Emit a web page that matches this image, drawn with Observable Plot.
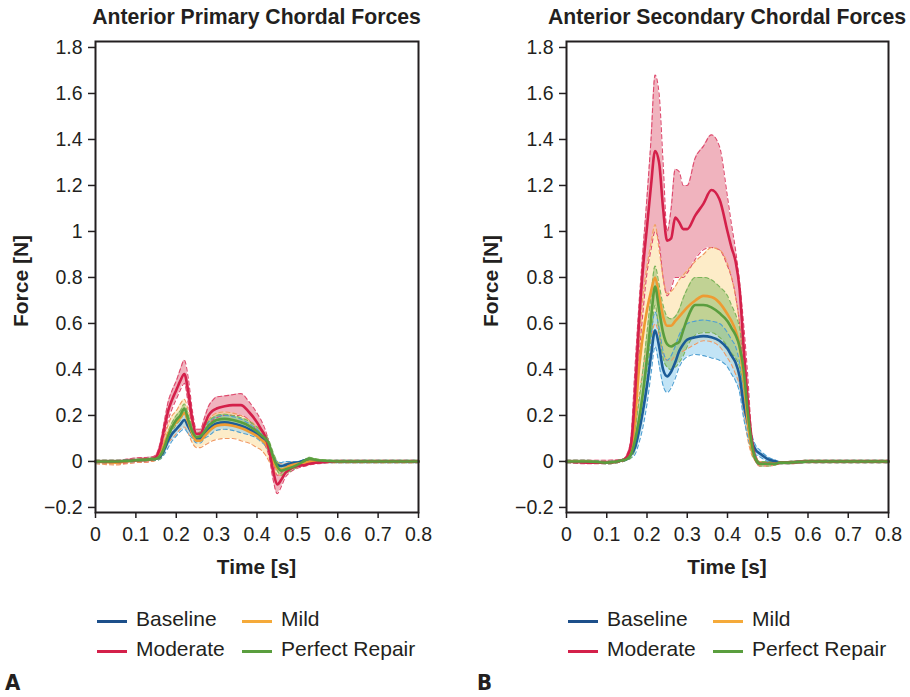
<!DOCTYPE html>
<html>
<head>
<meta charset="utf-8">
<script src="https://cdn.jsdelivr.net/npm/d3@7"></script>
<script src="https://cdn.jsdelivr.net/npm/@observablehq/plot@0.6"></script>
<style>
  html, body { margin: 0; padding: 0; background: #fff; }
  #root { position: relative; width: 910px; height: 697px; font-family: "Liberation Sans", Arial, Helvetica, sans-serif; color: #231f20; overflow: hidden; }
  .panel { position: absolute; top: 0; }
  .title { position: absolute; font-weight: bold; font-size: 21.2px; white-space: nowrap; transform: translateX(-50%); }
  .xlab { position: absolute; font-weight: bold; font-size: 20.8px; white-space: nowrap; transform: translateX(-50%); }
  .ylab { position: absolute; font-weight: bold; font-size: 21px; white-space: nowrap; transform: translate(-50%, -50%) rotate(-90deg); }
  .leg { position: absolute; font-size: 21px; white-space: nowrap; }
  .sw { position: absolute; height: 3px; width: 30px; }
  .letter { position: absolute; font-weight: bold; font-size: 22px; line-height: 1; font-family: "DejaVu Sans Condensed", "Liberation Sans Narrow", "Liberation Sans", sans-serif; font-stretch: condensed; }
</style>
</head>
<body>
<div id="root"></div>
<script>
// ---- data ----
const T = [0, 0.05, 0.1, 0.14, 0.15, 0.16, 0.17, 0.18, 0.19, 0.2, 0.21, 0.22, 0.23, 0.24, 0.25, 0.26, 0.27, 0.28, 0.29, 0.3, 0.32, 0.34, 0.36, 0.38, 0.4, 0.41, 0.42, 0.43, 0.44, 0.45, 0.46, 0.47, 0.48, 0.5, 0.52, 0.53, 0.55, 0.6, 0.7, 0.8];

const conditions = ["Baseline", "Mild", "Moderate", "Perfect Repair"];
const panelTitles = ["Anterior Primary Chordal Forces", "Anterior Secondary Chordal Forces"];
const panelLetters = ["A", "B"];
const xTicks = [0, 0.1, 0.2, 0.3, 0.4, 0.5, 0.6, 0.7, 0.8];
const yTicks = [-0.2, 0, 0.2, 0.4, 0.6, 0.8, 1, 1.2, 1.4, 1.6, 1.8];
const yTickLabels = ["\u22120.2", "0", "0.2", "0.4", "0.6", "0.8", "1", "1.2", "1.4", "1.6", "1.8"];

// Panel A: Anterior primary chordal forces
const A_baseline_mean = [0,0,0.005,0.01,0.012,0.02,0.05,0.09,0.12,0.14,0.16,0.18,0.15,0.12,0.1,0.1,0.12,0.14,0.155,0.165,0.17,0.165,0.155,0.14,0.12,0.105,0.09,0.06,0.01,-0.015,-0.02,-0.015,-0.01,-0.005,0.005,0.01,0,0,0,0];
const A_baseline_hi   = [0.005,0.005,0.01,0.015,0.02,0.03,0.07,0.11,0.15,0.17,0.19,0.21,0.18,0.14,0.12,0.12,0.14,0.17,0.185,0.195,0.2,0.195,0.185,0.165,0.14,0.125,0.11,0.08,0.03,0.0,-0.005,0,0,0,0.01,0.015,0.005,0.005,0.005,0.005];
const A_baseline_lo   = [-0.005,-0.005,0,0.005,0.005,0.01,0.03,0.06,0.09,0.11,0.13,0.14,0.12,0.1,0.08,0.08,0.1,0.11,0.125,0.135,0.14,0.135,0.125,0.115,0.1,0.085,0.07,0.04,-0.01,-0.03,-0.035,-0.03,-0.02,-0.01,0,0.005,-0.005,-0.005,-0.005,-0.005];

const A_mild_mean = [0,-0.005,0.005,0.01,0.015,0.03,0.07,0.12,0.15,0.17,0.19,0.21,0.17,0.12,0.09,0.09,0.11,0.13,0.145,0.155,0.16,0.155,0.145,0.13,0.11,0.095,0.08,0.05,0.0,-0.03,-0.035,-0.03,-0.02,-0.01,-0.005,0,0,0,0,0];
const A_mild_hi   = [0.005,0.005,0.01,0.015,0.02,0.05,0.1,0.16,0.2,0.22,0.25,0.27,0.22,0.16,0.12,0.12,0.15,0.18,0.2,0.21,0.215,0.21,0.2,0.18,0.15,0.13,0.11,0.08,0.03,0.0,-0.01,-0.01,-0.005,0,0,0.005,0.005,0.005,0.005,0.005];
const A_mild_lo   = [-0.01,-0.015,-0.005,0.0,0.005,0.015,0.04,0.08,0.1,0.12,0.14,0.15,0.12,0.08,0.06,0.06,0.07,0.08,0.09,0.095,0.1,0.1,0.09,0.08,0.06,0.05,0.03,0.0,-0.03,-0.06,-0.06,-0.05,-0.035,-0.02,-0.01,-0.005,-0.005,-0.005,-0.005,-0.005];

const A_moderate_mean = [0,0,0.005,0.01,0.02,0.06,0.14,0.22,0.27,0.31,0.35,0.38,0.3,0.18,0.12,0.12,0.16,0.2,0.22,0.23,0.24,0.245,0.245,0.215,0.17,0.14,0.11,0.05,-0.04,-0.1,-0.08,-0.05,-0.035,-0.02,-0.015,-0.01,-0.005,0,0,0];
const A_moderate_hi   = [0.005,0.005,0.015,0.02,0.03,0.08,0.17,0.26,0.31,0.35,0.4,0.44,0.36,0.22,0.14,0.14,0.19,0.24,0.265,0.28,0.285,0.29,0.295,0.26,0.21,0.18,0.14,0.08,0.0,-0.06,-0.05,-0.03,-0.02,-0.01,-0.005,0,0,0.005,0.005,0.005];
const A_moderate_lo   = [-0.005,-0.01,-0.005,0,0.01,0.04,0.11,0.18,0.23,0.27,0.31,0.34,0.25,0.15,0.1,0.1,0.13,0.16,0.18,0.19,0.2,0.2,0.2,0.18,0.13,0.1,0.07,0.02,-0.08,-0.14,-0.11,-0.07,-0.05,-0.03,-0.02,-0.015,-0.01,-0.005,-0.005,-0.005];

const A_repair_mean = [0,0,0.005,0.01,0.012,0.025,0.06,0.11,0.15,0.18,0.2,0.23,0.18,0.13,0.105,0.11,0.13,0.155,0.17,0.18,0.185,0.18,0.17,0.155,0.13,0.115,0.1,0.075,0.02,-0.02,-0.04,-0.035,-0.03,-0.015,0.005,0.012,0.005,0,0,0];
const A_repair_hi   = [0.005,0.005,0.01,0.015,0.02,0.04,0.08,0.13,0.17,0.2,0.22,0.25,0.2,0.15,0.12,0.13,0.15,0.175,0.19,0.2,0.205,0.2,0.19,0.175,0.15,0.135,0.12,0.09,0.04,0.0,-0.02,-0.02,-0.015,-0.005,0.01,0.018,0.01,0.005,0.005,0.005];
const A_repair_lo   = [-0.005,-0.005,0,0.005,0.005,0.01,0.04,0.09,0.13,0.16,0.18,0.21,0.16,0.11,0.09,0.09,0.11,0.135,0.15,0.16,0.165,0.16,0.15,0.135,0.11,0.095,0.08,0.06,0.0,-0.04,-0.06,-0.05,-0.045,-0.025,0,0.006,0,-0.005,-0.005,-0.005];

// Panel B: Anterior secondary chordal forces
const B_baseline_mean = [0,0,-0.005,0.005,0.01,0.03,0.06,0.13,0.22,0.33,0.46,0.57,0.5,0.4,0.37,0.39,0.43,0.48,0.51,0.53,0.54,0.545,0.54,0.525,0.49,0.46,0.43,0.37,0.25,0.17,0.09,0.05,0.035,0.01,0,-0.005,-0.005,0,0,0];
const B_baseline_hi   = [0.005,0.005,0,0.01,0.02,0.05,0.1,0.19,0.3,0.42,0.55,0.65,0.58,0.48,0.44,0.46,0.5,0.55,0.58,0.6,0.61,0.615,0.61,0.6,0.56,0.53,0.5,0.43,0.32,0.22,0.12,0.07,0.05,0.02,0.005,0,0,0.005,0.005,0.005];
const B_baseline_lo   = [-0.005,-0.005,-0.01,0,0.005,0.015,0.03,0.08,0.15,0.25,0.38,0.5,0.42,0.33,0.3,0.32,0.36,0.41,0.44,0.455,0.465,0.46,0.45,0.44,0.41,0.38,0.35,0.3,0.19,0.11,0.05,0.03,0.02,0,-0.01,-0.01,-0.01,-0.005,-0.005,-0.005];

const B_mild_mean = [0,0,-0.005,0.005,0.015,0.05,0.18,0.4,0.55,0.66,0.74,0.8,0.72,0.63,0.59,0.59,0.61,0.63,0.65,0.67,0.7,0.72,0.715,0.69,0.64,0.61,0.57,0.5,0.36,0.18,0.06,0.01,-0.01,-0.01,-0.01,-0.005,-0.005,0,0,0];
const B_mild_hi   = [0.005,0.005,0,0.01,0.02,0.07,0.24,0.5,0.72,0.85,0.95,1.03,0.92,0.8,0.73,0.74,0.76,0.79,0.81,0.83,0.87,0.9,0.93,0.92,0.86,0.8,0.72,0.6,0.45,0.25,0.08,0.02,0,0,0,0,0,0.005,0.005,0.005];
const B_mild_lo   = [-0.005,-0.005,-0.01,0,0.01,0.03,0.12,0.28,0.4,0.48,0.54,0.6,0.55,0.47,0.44,0.44,0.46,0.47,0.48,0.49,0.51,0.525,0.52,0.5,0.45,0.42,0.38,0.33,0.22,0.1,0.03,0,-0.02,-0.02,-0.015,-0.01,-0.01,-0.005,-0.005,-0.005];

const B_moderate_mean = [0,-0.005,-0.005,0.005,0.02,0.07,0.28,0.6,0.84,1.02,1.2,1.35,1.3,1.1,0.96,0.97,1.06,1.04,1.01,1.01,1.07,1.12,1.18,1.14,1.0,0.93,0.87,0.75,0.5,0.27,0.1,0.01,-0.01,-0.01,-0.01,-0.005,-0.005,0,0,0];
const B_moderate_hi   = [0.005,0.005,0.005,0.01,0.03,0.1,0.4,0.68,0.92,1.15,1.4,1.68,1.6,1.3,1.0,1.1,1.27,1.26,1.2,1.2,1.32,1.37,1.42,1.37,1.15,1.03,0.92,0.78,0.6,0.38,0.12,0.03,0,0,0,0,0,0.005,0.005,0.005];
const B_moderate_lo   = [-0.005,-0.01,-0.01,0,0.01,0.04,0.2,0.45,0.65,0.82,0.92,1.0,0.95,0.8,0.72,0.75,0.8,0.8,0.8,0.82,0.88,0.92,0.93,0.92,0.85,0.8,0.72,0.6,0.38,0.18,0.05,0.0,-0.02,-0.02,-0.015,-0.01,-0.01,-0.005,-0.005,-0.005];

const B_repair_mean = [0,0,-0.005,0.005,0.01,0.03,0.09,0.18,0.3,0.45,0.62,0.76,0.66,0.56,0.51,0.5,0.51,0.52,0.57,0.62,0.68,0.68,0.67,0.645,0.61,0.58,0.55,0.5,0.4,0.22,0.08,0.01,-0.01,-0.01,-0.01,-0.005,-0.005,0,0,0];
const B_repair_hi   = [0.005,0.005,0,0.01,0.02,0.05,0.14,0.26,0.4,0.56,0.72,0.85,0.77,0.68,0.63,0.62,0.63,0.66,0.71,0.75,0.8,0.8,0.79,0.76,0.72,0.68,0.64,0.58,0.47,0.3,0.1,0.02,0,0,0,0,0,0.005,0.005,0.005];
const B_repair_lo   = [-0.005,-0.005,-0.01,0,0.005,0.015,0.05,0.12,0.22,0.36,0.53,0.68,0.56,0.45,0.41,0.4,0.41,0.43,0.46,0.5,0.55,0.56,0.56,0.54,0.5,0.47,0.45,0.41,0.31,0.15,0.04,0,-0.02,-0.02,-0.015,-0.01,-0.01,-0.005,-0.005,-0.005];

// ---- styles ----
const lineColor = {"Baseline": "#1c5c98", "Mild": "#ee9b33", "Moderate": "#d4204a", "Perfect Repair": "#5a9e3e"};
const legendColor = {"Baseline": "#1d4f8a", "Mild": "#f5aa3a", "Moderate": "#d4204a", "Perfect Repair": "#5a9e3e"};
const bandFill = {"Baseline": "#8fcdee", "Mild": "#fbdc9a", "Moderate": "#e47489", "Perfect Repair": "#8fbe6a"};
const bandEdge = {"Baseline": "#4e9fd2", "Mild": "#f19a63", "Moderate": "#de4a6e", "Perfect Repair": "#7cb45a"};

const panelSeries = [
  {"Baseline": [A_baseline_mean, A_baseline_lo, A_baseline_hi],
   "Mild": [A_mild_mean, A_mild_lo, A_mild_hi],
   "Moderate": [A_moderate_mean, A_moderate_lo, A_moderate_hi],
   "Perfect Repair": [A_repair_mean, A_repair_lo, A_repair_hi]},
  {"Baseline": [B_baseline_mean, B_baseline_lo, B_baseline_hi],
   "Mild": [B_mild_mean, B_mild_lo, B_mild_hi],
   "Moderate": [B_moderate_mean, B_moderate_lo, B_moderate_hi],
   "Perfect Repair": [B_repair_mean, B_repair_lo, B_repair_hi]}
];

const root = document.getElementById("root");
const PW = 455, PH = 600;
const layouts = [
  {left: 0, marginLeft: 95, marginRight: 37},
  {left: 455, marginLeft: 111, marginRight: 22}
];
const marginTop = 41, marginBottom = 88;
const yDomain = [-0.222, 1.826];
const bandOrder = ["Moderate", "Mild", "Baseline", "Perfect Repair"];
const lineOrder = ["Baseline", "Mild", "Moderate", "Perfect Repair"];
const curve = "monotone-x";

layouts.forEach((L, p) => {
  const series = panelSeries[p];
  const rows = {};
  conditions.forEach(c => {
    const [m, lo, hi] = series[c];
    rows[c] = T.map((t, i) => ({t, mean: m[i], lo: lo[i], hi: hi[i], cond: c}));
  });
  const marks = [];
  bandOrder.forEach(c => {
    marks.push(Plot.areaY(rows[c], {x: "t", y1: "lo", y2: "hi", fill: bandFill[c], fillOpacity: 0.55, curve}));
  });
  bandOrder.forEach(c => {
    marks.push(Plot.line(rows[c], {x: "t", y: "hi", stroke: bandEdge[c], strokeWidth: 1.1, strokeDasharray: "4,3", curve}));
    marks.push(Plot.line(rows[c], {x: "t", y: "lo", stroke: bandEdge[c], strokeWidth: 1.1, strokeDasharray: "4,3", curve}));
  });
  lineOrder.forEach(c => {
    marks.push(Plot.line(rows[c], {x: "t", y: "mean", stroke: lineColor[c], strokeWidth: 2.6, curve}));
  });
  marks.push(Plot.frame({stroke: "#231f20", strokeWidth: 2}));
  marks.push(Plot.axisX({ticks: xTicks, tickSize: 6, tickPadding: 9, tickFormat: d => String(+d.toFixed(1)), stroke: "#231f20", strokeWidth: 1.5, label: null, fontSize: 19.5}));
  marks.push(Plot.axisY({ticks: yTicks, tickSize: 7, tickPadding: 6, tickFormat: (d) => yTickLabels[yTicks.findIndex(v => Math.abs(v - d) < 1e-9)], stroke: "#231f20", strokeWidth: 1.5, label: null, fontSize: 19.5}));

  const chart = Plot.plot({
    width: PW, height: PH,
    marginLeft: L.marginLeft, marginRight: L.marginRight,
    marginTop, marginBottom,
    x: {domain: [0, 0.8]},
    y: {domain: yDomain},
    style: {fontFamily: "'Liberation Sans', Arial, Helvetica, sans-serif", fontSize: "19.5px", color: "#231f20", background: "transparent", overflow: "visible"},
    marks
  });
  const wrap = document.createElement("div");
  wrap.className = "panel";
  wrap.style.left = L.left + "px";
  wrap.appendChild(chart);
  root.appendChild(wrap);

  const fx0 = L.left + L.marginLeft, fx1 = L.left + PW - L.marginRight;
  const cx = (fx0 + fx1) / 2;

  const title = document.createElement("div");
  title.className = "title";
  title.textContent = panelTitles[p];
  title.style.left = cx + "px"; title.style.top = "5px";
  root.appendChild(title);

  const xl = document.createElement("div");
  xl.className = "xlab";
  xl.textContent = "Time [s]";
  xl.style.left = cx + "px"; xl.style.top = "555px";
  root.appendChild(xl);

  const yl = document.createElement("div");
  yl.className = "ylab";
  yl.textContent = "Force [N]";
  yl.style.left = (L.left + (p === 0 ? 21 : 36)) + "px"; yl.style.top = "281px";
  root.appendChild(yl);

  // legend
  const legPos = [[0, 0], [145, 0], [0, 30], [145, 30]];
  conditions.forEach((c, i) => {
    const [dx, dy] = legPos[i];
    const sw = document.createElement("div");
    sw.className = "sw";
    sw.style.background = legendColor[c];
    sw.style.left = (fx0 + 2 + dx) + "px";
    sw.style.top = (620 + dy) + "px";
    root.appendChild(sw);
    const tx = document.createElement("div");
    tx.className = "leg";
    tx.textContent = c;
    tx.style.left = (fx0 + 41 + dx) + "px";
    tx.style.top = (607 + dy) + "px";
    root.appendChild(tx);
  });

  const letter = document.createElement("div");
  letter.className = "letter";
  letter.textContent = panelLetters[p];
  letter.style.left = (p === 0 ? 5 : 477) + "px";
  letter.style.top = "672px";
  root.appendChild(letter);
});
</script>
</body>
</html>
